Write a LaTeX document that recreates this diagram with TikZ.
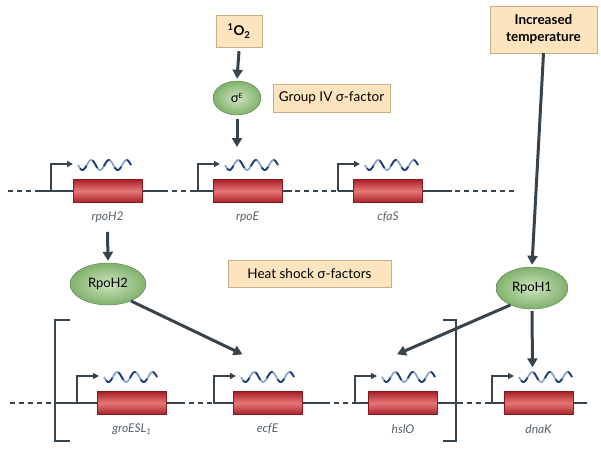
\documentclass[tikz,border=0pt]{standalone}
\usepackage{fontspec}
\setmainfont{Lato}
\usetikzlibrary{arrows.meta,shapes.geometric,calc}

\definecolor{ink}{RGB}{55,68,78}
\definecolor{boxfill}{RGB}{252,229,190}
\definecolor{boxline}{RGB}{200,172,135}
\definecolor{genedark}{RGB}{170,30,40}
\definecolor{genelight}{RGB}{228,120,118}
\definecolor{leafout}{RGB}{128,178,108}
\definecolor{leafin}{RGB}{205,228,190}
\definecolor{wavedark}{RGB}{30,60,120}
\definecolor{wavelight}{RGB}{140,165,205}

\tikzset{
  labelbox/.style={draw=boxline, fill=boxfill, inner sep=4pt, font=\fontsize{13.5}{16}\selectfont},
  factor/.style={ellipse, draw=leafout!70!black, shading=radial, inner color=leafin, outer color=leafout, inner sep=0pt, font=\fontsize{13}{15}\selectfont},
  genebox/.style={rectangle, draw=genedark!80!black, minimum width=69pt, minimum height=23pt, inner sep=0pt, top color=genedark, bottom color=genedark, middle color=genelight},
  genename/.style={font=\fontsize{12}{14}\selectfont\itshape, text=ink!85},
  signal/.style={ink, line width=3pt, -{Triangle[length=9pt,width=10pt]}},
  dna/.style={ink, line width=1.4pt},
  dnagap/.style={ink, line width=1.4pt, dash pattern=on 5pt off 4pt},
  promoter/.style={ink, line width=1.4pt, -{Triangle[length=6pt,width=6pt]}},
  mrna/.style={line width=1.8pt}
}

% id, promoter x, box centre x, row y, name
\newcommand{\gene}[5]{%
  \node[genebox] (#1) at (#3,#4) {};
  \draw[promoter] (#2,#4) -- (#2,#4-27) -- (#2+22,#4-27);
  \draw[mrna, wavelight] plot[domain=0:1080, samples=73] ({#2+27+\x/1080*53}, {#4-26+5*sin(\x)});
  \draw[mrna, wavedark, dash pattern=on 9pt off 9pt, dash phase=-4pt] plot[domain=0:1080, samples=73] ({#2+27+\x/1080*53}, {#4-26+5*sin(\x)});
  \node[genename] (#1-name) at (#3,#4+26) {#5};
}

\begin{document}
\begin{tikzpicture}[x=1pt, y=-1pt]
  \useasboundingbox (0,0) rectangle (601,452);

  % inputs
  \node[labelbox, minimum width=46pt, minimum height=32pt, font=\fontsize{13.5}{16}\selectfont\bfseries] (oxygen) at (239,31) {\textsuperscript{1}O\textsubscript{2}};
  \node[labelbox, minimum width=107pt, minimum height=47pt, align=center, font=\fontsize{13.5}{17}\selectfont\bfseries] (heat) at (543.5,29.5) {Increased\\temperature};

  % sigma factors
  \node[factor, minimum width=48pt, minimum height=34pt] (sigE) at (237,98) {σ\textsuperscript{\scriptsize E}};
  \node[labelbox, minimum width=117pt, minimum height=28pt] (groupfour) at (331.5,98) {Group IV σ-factor};
  \node[factor, minimum width=76pt, minimum height=42pt] (rpoHtwo) at (108,284) {RpoH2};
  \node[factor, minimum width=72pt, minimum height=42pt] (rpoHone) at (532,288) {RpoH1};
  \node[labelbox, minimum width=163pt, minimum height=27pt] (heatshock) at (309.5,273.5) {Heat shock σ-factors};

  % upper row of DNA
  \draw[dnagap] (8,191) -- (38,191);
  \draw[dna] (38,191) -- (163,191);
  \draw[dnagap] (163,191) -- (195,191);
  \draw[dna] (195,191) -- (292,191);
  \draw[dnagap] (295,191) -- (338,191);
  \draw[dna] (338,191) -- (452,191);
  \draw[dnagap] (455,191) -- (517,191);
  \gene{rpoHtwoGene}{51}{107.5}{191}{rpoH2}
  \gene{rpoEGene}{198}{247.5}{191}{rpoE}
  \gene{cfaSGene}{338}{388}{191}{cfaS}

  % lower row of DNA
  \draw[dnagap] (10,403) -- (55,403);
  \draw[dna] (55,403) -- (180,403);
  \draw[dnagap] (180,403) -- (213,403);
  \draw[dna] (213,403) -- (325,403);
  \draw[dnagap] (325,403) -- (355,403);
  \draw[dna] (355,403) -- (458,403);
  \draw[dnagap] (458,403) -- (490,403);
  \draw[dna] (490,403) -- (587,403);
  \gene{groGene}{77}{132}{403}{groESL\textsubscript{1}}
  \gene{ecfEGene}{214}{267.5}{403}{ecfE}
  \gene{hslOGene}{355}{403}{403}{hslO}
  \gene{dnaKGene}{492}{538.5}{403}{dnaK}

  % brackets
  \draw[dna] (70,320) -- (55,320) -- (55,441) -- (70,441);
  \draw[dna] (443,320) -- (456,320) -- (456,441) -- (443,441);

  % signalling
  \coordinate (rpoEtop) at (237,147);
  \draw[signal] (oxygen.south) ++(0,4) -- ($(sigE.north)+(0,-2)$);
  \draw[signal] ($(sigE.south)+(0,4)$) -- (rpoEtop);
  \draw[signal] ($(rpoHtwoGene-name.south)+(0,6)$) -- ($(rpoHtwo.north)+(0,-2)$);
  \draw[signal] (heat.south) -- ($(rpoHone.north)+(0,-2)$);
  \draw[signal] ($(rpoHtwo.south east)+(-4,2)$) -- ($(ecfEGene.north)+(-25,-37)$);
  \draw[signal] ($(rpoHone.south west)+(4,2)$) -- ($(hslOGene.north)+(-6,-37)$);
  \draw[signal] ($(rpoHone.south)+(0,2)$) -- ($(dnaKGene.north)+(-6,-24)$);
\end{tikzpicture}
\end{document}
